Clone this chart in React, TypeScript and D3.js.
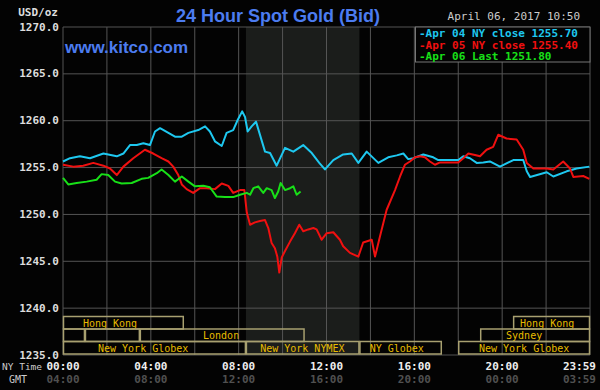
import * as React from "react";
import * as d3 from "d3";

// Apr 04 (cyan), Apr 05 (red), Apr 06 (green) – hours NY time, price USD/oz
const apr04Hours = [0, 0.32, 0.77, 1.23, 1.84, 2.45, 2.75, 3.05, 3.36, 3.66, 3.96, 4.19, 4.42, 4.8, 5.1, 5.41, 5.71, 6.16, 6.47, 6.69, 6.92, 7.23, 7.45, 7.75, 7.96, 8.16, 8.29, 8.41, 8.59, 8.79, 9.2, 9.43, 9.73, 10.11, 10.49, 10.94, 11.33, 11.67, 11.93, 12.31, 12.76, 13.15, 13.45, 13.83, 14.36, 14.81, 15.2, 15.5, 15.72, 15.95, 16.41, 16.86, 17.09, 18.0, 18.23, 18.53, 18.84, 19.14, 19.44, 19.9, 20.51, 20.96, 21.12, 21.27, 22.03, 22.33, 22.94, 23.39, 23.97];
const apr04Price = [1255.65, 1256.0, 1256.2, 1256.0, 1256.5, 1256.2, 1256.5, 1257.4, 1257.4, 1257.6, 1257.4, 1258.85, 1259.2, 1258.7, 1258.3, 1258.3, 1258.7, 1259.0, 1259.4, 1258.85, 1257.8, 1257.3, 1258.7, 1259.0, 1260.1, 1261.0, 1260.4, 1258.85, 1259.4, 1259.9, 1256.7, 1256.55, 1255.2, 1257.1, 1256.7, 1257.4, 1256.55, 1255.5, 1254.8, 1255.8, 1256.4, 1256.5, 1255.5, 1256.7, 1255.5, 1256.1, 1256.3, 1256.5, 1255.9, 1256.0, 1256.4, 1256.1, 1255.8, 1255.8, 1256.2, 1256.0, 1255.5, 1255.55, 1255.65, 1255.1, 1255.8, 1255.8, 1254.6, 1254.0, 1254.5, 1254.05, 1254.6, 1254.9, 1255.1];

const apr05Hours = [0, 0.47, 0.92, 1.38, 1.84, 2.14, 2.45, 2.75, 3.2, 3.73, 4.11, 4.49, 4.8, 5.02, 5.25, 5.41, 5.63, 5.93, 6.24, 6.54, 6.92, 7.23, 7.53, 7.75, 8.06, 8.26, 8.37, 8.52, 8.74, 8.97, 9.2, 9.35, 9.5, 9.65, 9.76, 9.85, 9.96, 10.11, 10.34, 10.56, 10.76, 10.94, 11.17, 11.4, 11.55, 11.78, 12.01, 12.31, 12.61, 12.76, 13.07, 13.45, 13.67, 14.06, 14.21, 14.44, 14.74, 15.12, 15.35, 15.57, 15.8, 16.03, 16.26, 16.48, 16.71, 16.94, 17.17, 18.0, 18.23, 18.46, 18.76, 18.99, 19.29, 19.59, 19.82, 20.2, 20.66, 20.96, 21.12, 21.42, 22.03, 22.33, 22.78, 23.09, 23.24, 23.69, 23.97];
const apr05Price = [1255.3, 1255.1, 1255.2, 1255.5, 1255.2, 1254.9, 1254.2, 1255.1, 1256.0, 1256.9, 1256.5, 1256.0, 1255.65, 1255.1, 1254.2, 1253.2, 1252.7, 1252.3, 1252.8, 1252.8, 1252.7, 1253.3, 1253.05, 1252.3, 1252.6, 1252.6, 1250.2, 1248.9, 1249.15, 1249.3, 1249.4, 1248.55, 1246.95, 1246.4, 1245.5, 1243.8, 1245.4, 1246.1, 1247.1, 1248.0, 1248.9, 1248.2, 1248.4, 1248.55, 1248.4, 1247.3, 1248.0, 1248.1, 1247.3, 1246.6, 1245.9, 1245.5, 1247.0, 1247.3, 1245.5, 1247.7, 1250.5, 1252.6, 1254.05, 1255.3, 1255.65, 1256.1, 1256.2, 1256.1, 1255.65, 1255.3, 1255.55, 1255.55, 1256.0, 1256.5, 1256.35, 1256.2, 1256.9, 1257.2, 1258.5, 1258.1, 1258.0, 1256.9, 1255.5, 1254.9, 1254.9, 1254.8, 1255.65, 1254.9, 1254.0, 1254.1, 1253.8];

const apr06Hours = [0, 0.24, 0.62, 1.08, 1.53, 1.76, 2.06, 2.37, 2.67, 3.13, 3.58, 3.88, 4.27, 4.49, 4.8, 5.1, 5.41, 5.71, 6.01, 6.39, 6.69, 7.0, 7.38, 7.75, 8.06, 8.37, 8.52, 8.67, 8.89, 9.12, 9.28, 9.5, 9.65, 9.8, 9.91, 10.11, 10.34, 10.49, 10.64, 10.82];
const apr06Price = [1253.9, 1253.2, 1253.35, 1253.5, 1253.7, 1254.3, 1254.2, 1253.5, 1253.3, 1253.35, 1253.8, 1253.9, 1254.4, 1254.8, 1254.2, 1253.5, 1254.05, 1253.5, 1253.0, 1253.05, 1252.9, 1251.9, 1251.85, 1251.85, 1252.1, 1252.3, 1252.1, 1252.8, 1253.0, 1252.3, 1252.8, 1252.6, 1251.75, 1252.45, 1253.35, 1252.6, 1252.8, 1253.0, 1252.1, 1252.45];

const legendLabels = ["-Apr 04 NY close 1255.70", "-Apr 05 NY close 1255.40", "-Apr 06 Last 1251.80"];
const seriesColors = ["#1ec8f0", "#f01010", "#18e018"];

// trading sessions drawn under the chart
const sessionNames = ["Hong Kong", "Hong Kong", "", "", "London", "Sydney", "New York Globex", "New York NYMEX", "NY Globex", "New York Globex"];
const sessionRow = [0, 0, 1, 1, 1, 1, 2, 2, 2, 2];
const sessionStart = [0, 20.5, 0, 1, 3.5, 19, 0, 8.33, 13.5, 18];
const sessionEnd = [5.5, 24, 1, 3.5, 11, 24, 8.33, 13.5, 17.25, 24];
const sessionLabelAt = [2.14, 22.05, 0, 0, 7.2, 21.0, 3.65, 10.9, 15.2, 21.0];

const nymexOpen = 8.33;
const nymexClose = 13.5;

const tickHours = [0, 4, 8, 12, 16, 20, 24];
const nyTimeLabels = ["00:00", "04:00", "08:00", "12:00", "16:00", "20:00", "23:59"];
const gmtLabels = ["04:00", "08:00", "12:00", "16:00", "20:00", "00:00", "03:59"];

const mono = "'DejaVu Sans Mono', monospace";
const sans = "'Liberation Sans', Arial, sans-serif";

export default function App() {
  const left = 63, right = 590, top = 27, bottom = 355;
  const x = d3.scaleLinear().domain([0, 24]).range([left, right]);
  const y = d3.scaleLinear().domain([1235, 1270]).range([bottom, top]);

  const mkLine = (hs: number[], ps: number[]) =>
    d3.line<number>().x((_, i) => x(hs[i])).y((p) => y(p))(ps) || "";

  const series = [
    mkLine(apr04Hours, apr04Price),
    mkLine(apr05Hours, apr05Price),
    mkLine(apr06Hours, apr06Price),
  ];

  const rowTop = [316.5, 329, 341.5];
  const rowH = 12.5;
  const last = tickHours.length - 1;

  return (
    <svg width={600} height={390} style={{ position: "absolute", left: 0, top: 0, background: "#030303" }}>
      <rect x={0} y={0} width={600} height={390} fill="#030303" />
      <rect x={x(nymexOpen)} y={top} width={x(nymexClose) - x(nymexOpen)} height={bottom - top} fill="#1b1d1b" />

      {y.ticks(7).map((t) => (
        <g key={"y" + t}>
          <line x1={left} x2={right} y1={y(t)} y2={y(t)} stroke="#555" strokeWidth={1} />
          <text x={59} y={y(t) + 3.5} textAnchor="end" fill="#ddd" fontFamily={mono} fontWeight="bold" fontSize={11}>
            {t.toFixed(1)}
          </text>
        </g>
      ))}
      {d3.range(0, 25, 2).map((h) => (
        <line key={"x" + h} x1={x(h)} x2={x(h)} y1={top} y2={bottom} stroke="#555" strokeWidth={1} />
      ))}

      {sessionNames.map((n, i) => (
        <g key={"s" + i}>
          <rect
            x={x(sessionStart[i]) + 0.5}
            y={rowTop[sessionRow[i]]}
            width={x(sessionEnd[i]) - x(sessionStart[i]) - 1}
            height={rowH}
            fill="none"
            stroke="#a8a070"
            strokeWidth={1.5}
          />
          {n && (
            <text x={x(sessionLabelAt[i])} y={rowTop[sessionRow[i]] + 10} textAnchor="middle" fill="#e8bc00" fontFamily={mono} fontSize={10}>
              {n}
            </text>
          )}
        </g>
      ))}

      {series.map((d, i) => (
        <path key={"l" + i} d={d} fill="none" stroke={seriesColors[i]} strokeWidth={2} strokeLinejoin="round" />
      ))}

      <text x={278} y={22} textAnchor="middle" fill="#4c7cf0" fontFamily={sans} fontSize={18} fontWeight="bold">
        24 Hour Spot Gold (Bid)
      </text>
      <text x={65} y={53} fill="#4c7cf0" fontFamily={sans} fontSize={17} fontWeight="bold">
        www.kitco.com
      </text>
      <text x={58} y={16} textAnchor="end" fill="#ddd" fontFamily={mono} fontWeight="bold" fontSize={11}>
        USD/oz
      </text>
      <text x={580} y={20} textAnchor="end" fill="#ccc" fontFamily={mono} fontSize={11}>
        April 06, 2017 10:50
      </text>

      <rect x={415.5} y={top} width={right - 415.5} height={35} fill="#030303" stroke="#777" strokeWidth={1} />
      {legendLabels.map((l, i) => (
        <text key={"g" + i} x={419} y={top + 10 + i * 11.5} fill={seriesColors[i]} fontFamily={mono} fontWeight="bold" fontSize={11}>
          {l}
        </text>
      ))}

      <text x={2} y={370} fill="#ccc" fontFamily={mono} fontSize={9.5}>NY Time</text>
      <text x={9} y={383} fill="#ccc" fontFamily={mono} fontSize={10}>GMT</text>
      {tickHours.map((h, i) => (
        <g key={"t" + i}>
          <text x={i === last ? 596 : x(h)} y={370} textAnchor={i === last ? "end" : "middle"} fill="#eee" fontFamily={mono} fontWeight="bold" fontSize={11}>
            {nyTimeLabels[i]}
          </text>
          <text x={i === last ? 596 : x(h)} y={383} textAnchor={i === last ? "end" : "middle"} fill="#505050" fontFamily={mono} fontWeight="bold" fontSize={11}>
            {gmtLabels[i]}
          </text>
        </g>
      ))}
    </svg>
  );
}
